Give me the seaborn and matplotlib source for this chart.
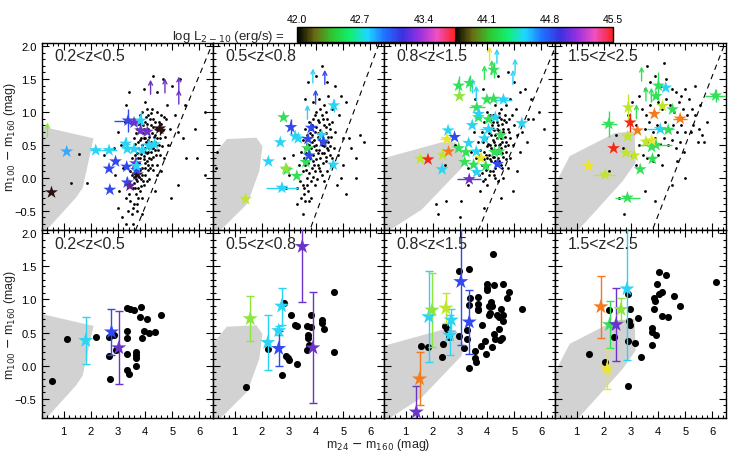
import matplotlib.pyplot as plt
import matplotlib.colors as mcolors
import numpy as np
import pandas as pd
import seaborn as sns
from matplotlib.cm import ScalarMappable
from matplotlib.ticker import MultipleLocator

sns.set_theme(style="ticks")
plt.rcParams["font.family"] = ["Liberation Sans", "DejaVu Sans"]
plt.rcParams["axes.edgecolor"] = "black"
plt.rcParams["xtick.color"] = "black"
plt.rcParams["ytick.color"] = "black"

z_labels = ["0.2<z<0.5", "0.5<z<0.8", "0.8<z<1.5", "1.5<z<2.5"]

# colour codes for the X-ray luminosity of each source
palette = {
    "k": "#2a1010", "lg": "#8ce63c", "g": "#34e05a", "c": "#2ad4f5",
    "lb": "#36a8ff", "b": "#3248f0", "p": "#6a34c8", "dp": "#62288e",
    "r": "#f52814", "o": "#f57a1e", "y": "#ece62a", "yg": "#bfe62a",
}

# grey region (star-forming template locus)
gray_1 = [(0.2, 0.78), (2.1, 0.6), (1.7, -0.15), (1.45, -0.3), (0.35, -0.8), (0.2, -0.8)]
gray_2 = [(0.2, 0.33), (0.71, 0.59), (1.8, 0.61), (2.02, 0.48), (1.91, 0.11),
          (1.47, -0.39), (0.71, -0.7), (0.45, -0.8), (0.2, -0.8)]
gray_3 = [(0.2, 0.3), (2.32, 0.54), (2.84, 0.54), (3.13, 0.33), (3.06, 0.15),
          (1.59, -0.48), (0.38, -0.8), (0.2, -0.8)]
gray_4 = [(0.2, -0.1), (0.74, 0.33), (2.4, 0.68), (3.13, 0.71), (3.17, 0.23),
          (2.69, -0.05), (1.04, -0.8), (0.3, -0.8), (0.2, -0.72)]
grays = [gray_1, gray_2, gray_3, gray_4]

# dashed separation line: (x at y=-0.8, slope)
dash_x0 = [3.64, 3.76, 3.67, 3.78]
dash_slope = [1.0, 1.11, 0.98, 1.06]

# top row: parent sample (small dots)
cloud_1 = [
    (3.6, 0.9), (3.8, 0.95), (3.9, 1.0), (4.0, 0.85), (4.1, 0.95), (4.2, 0.8), (4.3, 0.9),
    (4.4, 0.75), (4.5, 0.85), (4.6, 0.7), (3.7, 0.75), (3.85, 0.7), (3.95, 0.6), (4.05, 0.7),
    (4.15, 0.62), (4.25, 0.68), (4.35, 0.55), (4.45, 0.6), (3.6, 0.6), (3.75, 0.55), (3.9, 0.5),
    (4.0, 0.45), (4.1, 0.52), (4.2, 0.4), (4.3, 0.45), (4.4, 0.35), (3.55, 0.45), (3.7, 0.38),
    (3.8, 0.3), (3.95, 0.33), (4.05, 0.25), (4.15, 0.3), (4.25, 0.2), (3.5, 0.3), (3.65, 0.2),
    (3.75, 0.12), (3.9, 0.15), (4.0, 0.05), (4.1, 0.12), (3.45, 0.1), (3.6, 0.02), (3.7, -0.05),
    (3.85, -0.02), (3.95, -0.1), (3.4, -0.1), (3.55, -0.15), (3.65, -0.25), (3.8, -0.2),
    (3.3, -0.3), (3.45, -0.35), (3.6, -0.4), (3.75, -0.3), (3.35, -0.5), (3.5, -0.55),
    (3.7, -0.5), (3.82, 0.82), (4.02, 0.92), (4.22, 0.98), (4.12, 0.75), (3.92, 0.8),
    (4.32, 0.62), (4.52, 0.5), (4.6, 0.95), (3.68, 0.68), (3.87, 0.42), (4.08, 0.38),
    (4.28, 0.32), (3.62, 0.35), (3.78, 0.22), (3.98, 0.22), (4.18, 0.15), (3.52, 0.05),
    (3.68, 0.08), (3.88, 0.05), (4.05, -0.05), (3.58, -0.08), (3.72, -0.15), (3.9, -0.3),
    (3.42, -0.25), (3.55, -0.45), (3.85, 0.6), (4.0, 0.6), (3.95, 0.75), (4.4, 0.5),
    (4.48, 0.42), (3.75, 0.45), (4.15, 0.45), (3.62, 0.52), (3.82, 0.12), (4.3, 1.55),
    (4.65, 1.5), (3.95, 1.35), (4.45, 1.3), (3.3, 1.1), (5.0, 1.4), (5.3, 1.5), (3.0, 0.7),
    (2.5, 0.35), (1.85, -0.08), (5.2, 0.7), (5.4, 0.6), (4.9, 0.75), (4.8, 1.1), (5.1, 0.95),
    (3.1, 0.5), (3.2, 0.15), (3.05, -0.2), (3.15, -0.6), (3.3, -0.7), (3.55, -0.7),
    (4.95, -0.3), (5.2, -0.1), (5.5, 0.3), (4.7, 0.3), (4.6, 0.1), (3.9, -0.55), (2.85, 0.45),
    (2.9, 0.05), (3.25, 0.85), (4.85, 0.5), (5.45, 1.1), (6.2, 1.0), (3.4, 1.3), (4.0, 1.15),
    (4.75, 0.9), (3.0, -0.45), (2.95, 0.25), (4.45, 0.05), (4.35, -0.2), (5.85, 0.74),
    (5.9, 0.3), (6.2, 0.05), (1.56, 0.37), (1.26, -0.07),
    (3.85, 0.88), (4.08, 0.82), (4.18, 0.9), (4.28, 0.78), (4.38, 0.85), (4.48, 0.72),
    (4.58, 0.82), (4.68, 0.92), (4.72, 0.62), (4.62, 0.48), (3.92, 0.68), (4.02, 0.55),
    (4.12, 0.4), (4.22, 0.55), (4.35, 0.42), (4.55, 0.35), (4.45, 0.2), (3.72, 0.3),
    (3.85, 0.36), (3.98, 0.4), (4.1, 0.2), (4.2, 0.28), (4.3, 0.12), (3.78, 0.02),
    (3.92, -0.05), (4.0, 0.15), (4.15, -0.02), (3.62, -0.15), (3.7, -0.4), (3.85, -0.12),
    (4.05, 1.05), (4.25, 1.05), (4.42, 1.0), (4.55, 0.6), (3.75, 0.82), (4.38, 0.65),
    (4.65, 0.72), (4.25, 0.45), (3.95, 0.28), (4.12, 0.58), (3.68, -0.02), (3.82, 0.58),
]
cloud_2 = [
    (3.9, 0.9), (4.0, 1.0), (4.1, 0.85), (4.2, 0.95), (4.3, 0.8), (4.4, 0.9), (4.5, 0.75),
    (3.8, 0.75), (3.95, 0.7), (4.05, 0.62), (4.15, 0.72), (4.25, 0.6), (4.35, 0.68),
    (4.45, 0.55), (4.55, 0.62), (3.7, 0.6), (3.85, 0.55), (4.0, 0.5), (4.1, 0.42), (4.2, 0.5),
    (4.3, 0.38), (4.4, 0.45), (4.5, 0.35), (3.6, 0.45), (3.75, 0.4), (3.9, 0.35), (4.0, 0.28),
    (4.15, 0.3), (4.25, 0.22), (4.35, 0.25), (3.55, 0.3), (3.7, 0.22), (3.85, 0.15),
    (3.95, 0.1), (4.1, 0.15), (4.2, 0.05), (3.5, 0.1), (3.65, 0.0), (3.8, -0.05), (3.95, -0.1),
    (3.4, -0.05), (3.55, -0.15), (3.7, -0.2), (3.45, -0.3), (3.6, -0.35), (3.8, -0.3),
    (3.35, 0.2), (3.45, 0.4), (3.6, 0.75), (3.75, 0.85), (4.6, 0.85), (4.7, 0.7), (4.65, 0.45),
    (4.55, 0.2), (4.4, 0.1), (4.3, -0.05), (3.9, 1.15), (4.1, 1.2), (4.3, 1.1), (4.45, 1.25),
    (4.6, 1.05), (4.0, 0.78), (4.28, 0.48), (3.88, 0.25), (4.12, 0.6), (3.72, 0.5),
    (3.98, 0.42), (4.42, 0.62), (3.62, 0.12), (3.85, 0.65), (3.7, 1.45), (4.0, 1.55),
    (4.4, 1.45), (4.7, 1.4), (4.9, 1.25), (5.1, 1.15), (4.85, 0.95), (5.2, 0.6), (5.3, 0.45),
    (5.45, 0.3), (5.0, 0.2), (4.9, 0.0), (5.1, -0.25), (4.75, -0.1), (3.3, -0.4), (3.5, -0.55),
    (3.15, 0.35), (3.0, 0.05), (2.9, -0.15), (3.25, 0.65), (3.3, -0.15), (2.8, 0.3),
    (5.6, 0.65), (5.75, 0.55), (5.45, 0.0), (0.35, 0.4), (0.3, 0.15), (4.2, 1.7), (3.6, 1.2),
    (5.0, 0.6), (4.82, 0.35), (3.52, 0.58),
    (3.95, 0.95), (4.05, 0.88), (4.25, 0.9), (4.35, 0.78), (4.48, 0.82), (3.85, 0.8),
    (3.78, 0.68), (3.92, 0.58), (4.08, 0.68), (4.18, 0.55), (4.32, 0.55), (4.45, 0.42),
    (3.65, 0.52), (3.8, 0.45), (3.92, 0.48), (4.05, 0.38), (4.22, 0.38), (4.38, 0.32),
    (3.62, 0.38), (3.78, 0.3), (3.92, 0.2), (4.05, 0.2), (4.15, 0.1), (3.58, 0.2),
    (3.72, 0.08), (3.88, 0.02), (4.02, -0.02), (3.5, -0.1), (3.65, -0.1), (3.75, -0.35),
    (3.55, -0.25), (4.52, 0.48), (4.6, 0.3), (4.15, 1.05), (4.38, 1.0), (3.65, 0.65),
]
cloud_3 = [
    (4.1, 0.95), (4.2, 0.85), (4.3, 0.92), (4.4, 0.8), (4.5, 0.9), (4.6, 0.75), (4.7, 0.85),
    (4.8, 0.7), (4.05, 0.75), (4.15, 0.65), (4.25, 0.72), (4.35, 0.6), (4.45, 0.68),
    (4.55, 0.55), (4.65, 0.62), (4.75, 0.5), (3.95, 0.6), (4.1, 0.5), (4.2, 0.42), (4.3, 0.5),
    (4.4, 0.38), (4.5, 0.45), (4.6, 0.32), (4.7, 0.4), (3.9, 0.4), (4.0, 0.3), (4.15, 0.25),
    (4.25, 0.32), (4.35, 0.2), (4.45, 0.25), (4.55, 0.15), (3.8, 0.2), (3.95, 0.12),
    (4.05, 0.05), (4.2, 0.1), (4.3, 0.0), (3.7, 0.05), (3.85, -0.05), (4.0, -0.1), (3.75, -0.2),
    (3.6, 0.3), (3.65, 0.55), (3.8, 0.7), (3.9, 0.85), (4.0, 1.0), (4.3, 1.1), (4.5, 1.05),
    (4.7, 1.1), (4.9, 0.95), (5.0, 0.8), (5.1, 0.65), (4.95, 0.5), (4.85, 0.3), (4.75, 0.15),
    (4.6, 0.0), (4.4, -0.05), (3.5, 0.1), (3.4, 0.4), (3.5, 0.7), (3.7, 0.95), (4.85, 1.2),
    (5.05, 1.05), (4.22, 0.58), (4.38, 0.75), (4.62, 0.88), (4.08, 0.35), (4.48, 0.52),
    (3.98, 0.48), (4.18, 0.8), (4.28, 0.15), (4.58, 0.7), (4.42, 0.98), (4.4, 1.55),
    (4.75, 1.6), (5.0, 1.45), (5.2, 1.3), (5.4, 1.35), (5.6, 1.2), (5.5, 0.9), (5.3, 0.7),
    (5.2, 0.4), (5.45, 0.55), (5.7, 0.9), (5.9, 1.0), (6.1, 0.75), (5.1, 0.1), (4.95, -0.2),
    (4.5, -0.3), (3.3, -0.1), (3.05, -0.35), (2.5, -0.35), (2.2, -0.55), (3.0, -0.6),
    (3.9, -0.45), (3.3, 0.15), (3.55, 1.2), (3.85, 1.35), (6.3, 0.3), (2.8, 0.5), (2.45, 0.2),
    (2.1, -0.4), (4.68, 0.28), (3.72, 0.42),
    (4.12, 0.88), (4.22, 0.95), (4.35, 0.85), (4.45, 0.92), (4.55, 0.82), (4.65, 0.95),
    (4.08, 0.68), (4.2, 0.75), (4.3, 0.65), (4.4, 0.72), (4.5, 0.6), (4.6, 0.68), (4.7, 0.55),
    (4.02, 0.52), (4.15, 0.45), (4.25, 0.55), (4.35, 0.42), (4.45, 0.5), (4.55, 0.38),
    (4.65, 0.48), (3.95, 0.35), (4.1, 0.28), (4.2, 0.32), (4.3, 0.25), (4.4, 0.3), (4.5, 0.2),
    (3.88, 0.28), (4.0, 0.18), (4.12, 0.1), (4.25, 0.05), (3.8, 0.08), (3.92, -0.02),
    (4.75, 0.75), (4.85, 0.6), (4.8, 0.9), (3.85, 0.55), (3.75, 0.35),
]
cloud_4 = [
    (3.4, 1.05), (3.55, 0.95), (3.7, 1.1), (3.85, 1.0), (4.0, 1.15), (4.15, 1.05), (4.3, 1.2),
    (4.45, 1.1), (4.6, 1.0), (4.75, 1.15), (4.9, 1.05), (5.05, 0.95), (3.5, 0.75), (3.65, 0.85),
    (3.8, 0.7), (3.95, 0.8), (4.1, 0.72), (4.25, 0.85), (4.4, 0.75), (4.55, 0.8), (4.7, 0.7),
    (4.85, 0.8), (5.0, 0.7), (3.6, 0.55), (3.75, 0.5), (3.9, 0.6), (4.05, 0.52), (4.2, 0.6),
    (4.35, 0.5), (4.5, 0.58), (4.65, 0.45), (3.45, 0.35), (3.6, 0.3), (3.8, 0.25), (4.0, 0.35),
    (4.15, 0.2), (3.3, 0.5), (3.2, 0.8), (3.3, 1.25), (3.5, 1.35), (3.7, 1.45), (3.9, 1.55),
    (4.1, 1.4), (4.3, 1.5), (4.5, 1.35), (4.65, 1.3), (4.85, 1.25), (5.0, 1.35), (5.15, 1.2),
    (5.25, 1.05), (5.35, 0.95), (5.3, 0.8), (5.2, 0.7), (5.5, 0.75), (5.6, 0.65), (5.7, 0.55),
    (5.45, 0.55), (4.8, 0.55), (4.95, 0.4), (3.2, 0.2), (3.05, 0.35), (2.7, 0.45), (2.45, 0.65),
    (2.2, 0.1), (2.55, -0.3), (2.9, 0.95), (5.0, 0.0), (4.5, -0.1), (3.9, -0.35), (3.5, -0.2),
    (5.8, 0.85), (5.55, 1.1), (5.35, 1.4), (4.2, 1.75), (3.6, 1.7), (3.05, 1.15), (4.7, 0.25),
    (2.75, -0.55),
]
clouds = [cloud_1, cloud_2, cloud_3, cloud_4]

# top row: X-ray sources (x, y, xerr, yerr, colour code)
top_stars_1 = [
    (0.55, -0.22, 0, 0, "k"), (1.11, 0.40, 0, 0, "lb"), (2.18, 0.42, 0.2, 0, "c"),
    (2.67, 0.42, 0.3, 0, "c"), (3.28, 0.52, 0.15, 0.1, "c"), (3.34, 0.44, 0.1, 0, "c"),
    (3.59, 0.44, 0.1, 0, "c"), (3.89, 0.42, 0.15, 0, "c"), (4.14, 0.49, 0.1, 0.08, "c"),
    (4.35, 0.51, 0, 0, "c"), (3.37, 0.87, 0.5, 0.18, "b"), (3.59, 0.84, 0.15, 0, "p"),
    (3.83, 0.87, 0, 0.15, "c"), (3.83, 0.72, 0, 0, "p"), (4.08, 0.70, 0, 0, "p"),
    (4.54, 0.75, 0.2, 0.1, "k"), (3.71, 0.05, 0, 0, "k"), (2.67, 0.14, 0, 0, "b"),
    (2.91, 0.25, 0, 0, "b"), (3.32, 0.17, 0, 0, "b"), (3.68, 0.12, 0, 0.12, "b"),
    (3.34, -0.07, 0, 0.08, "b"), (2.70, -0.18, 0, 0, "b"), (3.65, 0.22, 0, 0.1, "p"),
    (3.44, -0.12, 0, 0, "dp"), (3.68, 0.18, 0, 0, "c"),
]
top_stars_2 = [
    (1.40, -0.32, 0, 0, "yg"), (2.24, 0.25, 0, 0, "c"), (2.74, -0.15, 0.58, 0, "c"),
    (2.92, 0.12, 0, 0, "g"), (2.88, 0.14, 0, 0, "lg"), (3.29, 0.03, 0, 0, "g"),
    (2.68, 0.54, 0, 0, "c"), (2.80, 0.92, 0, 0, "g"), (3.07, 0.77, 0, 0.12, "b"),
    (3.23, 0.63, 0, 0, "c"), (3.34, 0.60, 0, 0, "c"), (3.70, 0.59, 0, 0, "b"),
    (3.82, 0.76, 0, 0, "b"), (3.68, 0.45, 0, 0, "g"), (3.62, 0.24, 0, 0, "g"),
    (3.74, 0.34, 0, 0, "b"), (4.20, 0.65, 0, 0, "c"), (4.26, 0.55, 0, 0, "b"),
    (4.65, 1.10, 0, 0.1, "c"), (4.63, 0.20, 0, 0, "c"),
]
top_stars_3 = [
    (1.54, 0.29, 0, 0, "yg"), (1.82, 0.28, 0, 0, "r"), (2.36, 0.35, 0, 0, "yg"),
    (2.58, 0.40, 0, 0, "o"), (2.34, 0.13, 0, 0, "c"), (2.56, 0.72, 0, 0, "c"),
    (2.52, 0.59, 0.25, 0, "y"), (2.80, 0.62, 0, 0, "b"), (2.95, 0.45, 0, 0, "g"),
    (3.32, 0.53, 0, 0, "c"), (3.22, 0.39, 0, 0, "g"), (3.17, 0.24, 0, 0, "g"),
    (3.50, 0.20, 0, 0, "g"), (3.62, 0.09, 0, 0, "c"), (3.77, 0.30, 0, 0, "y"),
    (3.95, 0.18, 0, 0, "g"), (4.38, 0.21, 0, 0, "b"), (3.34, -0.02, 0.45, 0, "p"),
    (4.27, 0.39, 0, 0, "g"), (4.44, 0.40, 0, 0, "g"), (2.95, 1.40, 0, 0.15, "g"),
    (3.35, 1.44, 0, 0.12, "g"), (2.98, 1.24, 0, 0, "lg"), (3.62, 1.07, 0.3, 0, "g"),
    (3.99, 1.19, 0, 0, "g"), (4.24, 1.20, 0, 0, "g"), (3.68, 0.92, 0, 0, "g"),
    (4.05, 0.89, 0, 0, "g"), (4.24, 1.64, 0, 0.12, "g"), (4.60, 1.19, 0.3, 0, "c"),
    (3.68, 0.97, 0, 0, "c"), (4.30, 0.92, 0, 0, "c"), (4.05, 0.74, 0.3, 0, "c"),
    (5.28, 0.83, 0, 0, "c"), (3.45, 0.80, 0, 0, "c"), (3.90, 0.60, 0, 0, "c"),
    (4.50, 0.65, 0, 0, "g"), (3.60, 0.40, 0, 0, "c"),
]
top_stars_4 = [
    (2.18, 0.82, 0.3, 0.2, "g"), (1.43, 0.18, 0, 0, "y"), (2.05, 0.05, 0.4, 0, "yg"),
    (2.36, 0.45, 0, 0, "r"), (2.81, 0.38, 0, 0, "yg"), (3.12, 0.34, 0, 0, "yg"),
    (3.34, 0.13, 0, 0, "g"), (2.87, -0.30, 0.45, 0, "g"), (2.97, 0.84, 0, 0.15, "r"),
    (2.90, 1.07, 0, 0.2, "yg"), (3.24, 0.72, 0, 0, "o"), (2.88, 0.63, 0, 0, "yg"),
    (3.79, 0.29, 0, 0, "g"), (3.92, 0.50, 0.6, 0, "g"), (3.76, 0.47, 0, 0, "g"),
    (4.08, 0.74, 0.5, 0, "c"), (4.37, 0.73, 0, 0, "g"), (3.76, 0.57, 0, 0, "y"),
    (3.86, 0.97, 0, 0, "o"), (4.81, 0.90, 0.25, 0, "o"), (3.92, 1.24, 0, 0, "g"),
    (4.01, 1.40, 0, 0.2, "g"), (4.53, 1.04, 0, 0, "g"), (4.16, 1.09, 0, 0, "yg"),
    (4.28, 1.37, 0, 0, "c"), (6.12, 1.25, 0.4, 0.1, "g"), (3.55, 0.55, 0, 0, "yg"),
]
top_stars = [top_stars_1, top_stars_2, top_stars_3, top_stars_4]

# lower limits (arrow base x, y, colour code)
arrows_1 = [(0.40, 0.62, "lg"), (4.20, 1.27, "p"), (4.73, 1.29, "p"), (5.24, 1.32, "p"), (5.24, 1.12, "p")]
arrows_2 = [(3.88, 1.44, "c"), (4.32, 1.42, "b"), (3.98, 1.12, "b"), (3.68, 0.89, "c")]
arrows_3 = [(4.09, 1.77, "y"), (4.36, 1.74, "c"), (4.17, 1.57, "g"), (3.90, 1.49, "g"),
            (5.03, 1.59, "c"), (4.95, 1.42, "c"), (3.46, 1.29, "c"), (3.60, 1.18, "c")]
arrows_4 = [(3.39, 1.47, "g"), (3.55, 1.17, "g"), (3.20, 0.90, "g"), (3.75, 1.15, "g")]
arrows = [arrows_1, arrows_2, arrows_3, arrows_4]

# bottom row: stacked sources (large dots) and stacked X-ray sources
dots_1 = [
    (0.56, -0.23), (1.11, 0.40), (2.18, 0.43), (2.67, 0.43), (2.67, 0.14), (2.69, -0.20),
    (2.85, 0.47), (2.91, 0.24), (3.32, 0.53), (3.34, 0.87), (3.46, 0.85), (3.59, 0.84),
    (3.32, 0.42), (3.34, 0.17), (3.32, -0.07), (3.40, -0.12), (3.65, 0.21), (3.65, 0.16),
    (3.65, 0.11), (3.68, -0.01), (3.81, 0.74), (3.83, 0.88), (3.87, 0.42), (3.95, 0.53),
    (4.08, 0.71), (4.14, 0.50), (4.35, 0.51), (4.59, 0.76),
]
dots_2 = [
    (1.40, -0.32), (2.24, 0.25), (2.89, 0.14), (2.95, 0.12), (3.01, 0.08), (3.29, 0.02),
    (2.73, -0.14), (3.07, 0.77), (3.21, 0.62), (3.31, 0.60), (3.68, 0.60), (3.70, 0.46),
    (3.70, 0.42), (3.80, 0.76), (3.80, 0.59), (3.68, 0.24), (3.74, 0.31), (4.22, 0.69),
    (4.22, 0.65), (4.28, 0.55), (4.65, 1.11), (4.65, 0.20), (2.82, 0.94),
]
dots_3 = [
    (1.56, 0.30), (1.81, 0.28), (2.34, 0.13), (2.37, 0.33), (2.46, 0.60), (2.52, 0.56),
    (2.58, 0.43), (2.95, 1.43), (3.32, 1.46), (2.97, 0.45), (3.13, 0.27), (3.25, 0.40),
    (3.25, 0.54), (3.38, 1.02), (3.34, 0.92), (3.54, 0.22), (3.56, 0.12), (3.60, 0.05),
    (3.34, -0.03), (3.68, 1.04), (3.68, 0.93), (3.66, 0.86), (3.68, 0.84), (3.78, 0.30),
    (3.93, 0.38), (3.95, 0.18), (3.99, 1.24), (3.99, 1.18), (3.99, 1.14), (4.05, 0.90),
    (4.05, 0.76), (4.11, 0.80), (4.15, 0.96), (4.17, 0.90), (4.24, 1.22), (4.24, 0.48),
    (4.30, 0.41), (4.36, 0.77), (4.42, 0.73), (4.44, 0.56), (4.48, 0.39), (4.50, 0.85),
    (4.57, 1.23), (4.57, 0.76), (4.60, 0.68), (4.54, 0.42), (4.73, 1.03), (4.79, 1.12),
    (4.20, 1.68), (5.28, 0.85), (4.17, 0.28), (3.81, 0.62),
]
dots_4 = [
    (1.44, 0.17), (2.04, 0.06), (2.20, 0.84), (2.36, 0.44), (2.88, 1.08), (2.88, 0.38),
    (2.88, -0.30), (2.94, 0.67), (2.97, 0.61), (2.97, 0.85), (3.14, 0.35), (3.24, 0.72),
    (3.37, 0.13), (3.79, 0.57), (3.76, 0.51), (3.79, 0.31), (3.83, 0.85), (3.86, 1.02),
    (3.88, 0.98), (3.94, 1.24), (4.04, 1.42), (4.04, 1.09), (4.13, 0.75), (4.16, 1.11),
    (4.28, 1.37), (4.35, 0.73), (4.57, 1.05), (4.81, 0.90), (6.12, 1.27), (3.92, 0.46),
]
dots = [dots_1, dots_2, dots_3, dots_4]

bottom_stars_1 = [(1.81, 0.38, 0, 0.35, "c"), (2.76, 0.51, 0, 0.35, "b"), (3.03, 0.27, 0, 0.55, "p")]
bottom_stars_2 = [
    (1.57, 0.71, 0, 0.34, "lg"), (2.22, 0.35, 0, 0.41, "c"), (2.73, 0.90, 0, 0.28, "c"),
    (2.62, 0.53, 0, 0.07, "c"), (2.62, 0.26, 0, 0.27, "b"), (3.49, 1.80, 0, 0.84, "p"),
    (3.88, 0.27, 0, 0.84, "p"),
]
bottom_stars_3 = [
    (1.39, -0.70, 0, 0.40, "p"), (1.51, -0.20, 0, 0.40, "o"), (1.85, 0.74, 0, 0.69, "c"),
    (1.97, 0.84, 0, 0.56, "lg"), (2.48, 0.87, 0, 0.23, "yg"), (2.68, 0.69, 0, 0.17, "c"),
    (2.62, 0.46, 0, 0.30, "c"), (3.03, 1.27, 0, 0.95, "b"), (3.34, 0.66, 0, 0.49, "b"),
]
bottom_stars_4 = [
    (1.89, 0.89, 0, 0.47, "o"), (2.21, 0.62, 0, 0.36, "g"), (2.45, 0.62, 0, 0.55, "p"),
    (2.63, 0.85, 0, 0.17, "lg"), (2.85, 1.16, 0, 1.08, "c"), (2.12, -0.05, 0, 0.30, "y"),
]
bottom_stars = [bottom_stars_1, bottom_stars_2, bottom_stars_3, bottom_stars_4]

cbar_ticks = [42.0, 42.7, 43.4, 44.1, 44.8, 45.5]
cycle_colors = ["#000000", "#6b6b12", "#30c830", "#10f070", "#1ed8ff", "#2070ff",
                "#3a30e0", "#9a30e0", "#f050c0", "#ff2020"]


def draw_stars(ax, stars, size, capsize):
    df = pd.DataFrame(stars, columns=["x", "y", "xerr", "yerr", "c"])
    for r in df.itertuples():
        if r.xerr or r.yerr:
            ax.errorbar(r.x, r.y, xerr=r.xerr if r.xerr else None,
                        yerr=r.yerr if r.yerr else None, color=palette[r.c],
                        lw=1, capsize=capsize, capthick=1, zorder=3)
    sns.scatterplot(data=df, x="x", y="y", hue="c", palette=palette, marker="*",
                    s=size, linewidth=0, legend=False, ax=ax, zorder=4)


fig = plt.figure(figsize=(7.32, 4.52), dpi=100)
left0, width = 42 / 732, 171 / 732
top_axes = [fig.add_axes([left0 + i * width, 0.489, width, 0.414]) for i in range(4)]
bot_axes = [fig.add_axes([left0 + i * width, 0.073, width, 0.416]) for i in range(4)]

for i in range(4):
    for row, ax in enumerate([top_axes[i], bot_axes[i]]):
        poly = np.array(grays[i])
        ax.fill(poly[:, 0], poly[:, 1], color="#d2d2d2", lw=0, zorder=0)
        ax.text(0.075, 0.93, z_labels[i], transform=ax.transAxes, fontsize=11.5,
                va="center", ha="left", zorder=6)

    ax = top_axes[i]
    cl = pd.DataFrame(clouds[i], columns=["x", "y"])
    sns.scatterplot(data=cl, x="x", y="y", color="black", s=4, linewidth=0,
                    ax=ax, zorder=2)
    xx = np.array([0.0, 7.0])
    ax.plot(xx, -0.8 + dash_slope[i] * (xx - dash_x0[i]), color="black", lw=0.8,
            ls=(0, (5, 4)), zorder=1)
    for ax_x, ax_y, c in arrows[i]:
        ax.annotate("", xy=(ax_x, ax_y + 0.22), xytext=(ax_x, ax_y),
                    arrowprops=dict(arrowstyle="->", color=palette[c], lw=1,
                                    mutation_scale=7, shrinkA=0, shrinkB=0),
                    zorder=3)
    draw_stars(ax, top_stars[i], 95, 0)

    ax = bot_axes[i]
    dd = pd.DataFrame(dots[i], columns=["x", "y"])
    sns.scatterplot(data=dd, x="x", y="y", color="black", s=26, linewidth=0,
                    ax=ax, zorder=2)
    draw_stars(ax, bottom_stars[i], 130, 3)

for j, ax in enumerate(top_axes + bot_axes):
    ax.set_xlim(0.2, 6.5)
    ax.set_ylim(-0.79, 2.05)
    ax.xaxis.set_major_locator(MultipleLocator(1))
    ax.xaxis.set_minor_locator(MultipleLocator(0.2))
    ax.yaxis.set_major_locator(MultipleLocator(0.5))
    ax.yaxis.set_minor_locator(MultipleLocator(0.1))
    ax.tick_params(which="both", direction="in", top=True, right=True,
                   labelsize=8, width=0.8)
    ax.tick_params(axis="x", pad=6)
    ax.tick_params(axis="y", pad=4)
    ax.tick_params(which="major", length=5)
    ax.tick_params(which="minor", length=2.5)
    ax.set_xlabel("")
    ax.set_ylabel("")
    for s in ax.spines.values():
        s.set_linewidth(1)
    if j < 4:
        ax.tick_params(labelbottom=False)
    if j % 4 != 0:
        ax.tick_params(labelleft=False)

ylab = "m$_{100}$ $-$ m$_{160}$ (mag)"
fig.text(10 / 732, 1 - 137 / 452, ylab, rotation=90, ha="center", va="center", fontsize=9)
fig.text(10 / 732, 1 - 325 / 452, ylab, rotation=90, ha="center", va="center", fontsize=9)
fig.text(378 / 732, 1 - 445 / 452, "m$_{24}$ $-$ m$_{160}$ (mag)", ha="center",
         va="center", fontsize=9)

# colour bar for log L_X
nodes = []
n_c = len(cycle_colors)
for n, c in enumerate(cycle_colors):
    nodes.append((n / (n_c - 1) * 0.499, c))
for n, c in enumerate(cycle_colors):
    nodes.append((0.5 + n / (n_c - 1) * 0.5, c))
cmap = mcolors.LinearSegmentedColormap.from_list("lx", nodes)
cax = fig.add_axes([297 / 732, 1 - 43 / 452, 316 / 732, 15 / 452])
sm = ScalarMappable(norm=mcolors.Normalize(42.0, 45.5), cmap=cmap)
cb = fig.colorbar(sm, cax=cax, orientation="horizontal", ticks=cbar_ticks)
cax.xaxis.set_ticks_position("top")
cax.set_xticklabels([f"{t:.1f}" for t in cbar_ticks])
cax.tick_params(labelsize=7.5, length=0, pad=2)
cb.outline.set_linewidth(1)
fig.text(285 / 732, 1 - 37 / 452, "log L$_{2-10}$ (erg/s) =", ha="right",
         va="center", fontsize=9.5)

fig.savefig("out.png", dpi=100)
